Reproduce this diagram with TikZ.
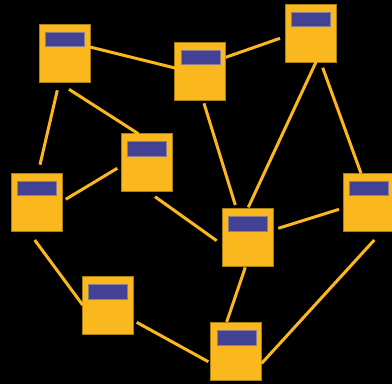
\documentclass[tikz,border=0pt]{standalone}
\definecolor{boxyellow}{HTML}{FBB71E}
\definecolor{boxedge}{HTML}{A8800F}
\definecolor{barblue}{HTML}{424193}
\definecolor{baredge}{HTML}{8A7F8A}
\begin{document}
\begin{tikzpicture}[x=1pt,y=-1pt,
    station/.style={shape=rectangle,draw=boxedge,line width=0.7pt,fill=boxyellow,
        minimum width=51pt,minimum height=58pt,inner sep=0pt,
        path picture={\filldraw[fill=barblue,draw=baredge,line width=0.5pt]
            ([shift={(6,8)}]path picture bounding box.north west) rectangle ++(39,14.5);}},
    link/.style={draw=boxyellow,line width=3pt}]
        \path[use as bounding box,fill=black] (0,0) rectangle (392,384);

        \node[station] (a) at (64.5,53) {};
        \node[station] (b) at (200.3,71) {};
        \node[station] (c) at (311,33) {};
        \node[station] (d) at (146.5,162.7) {};
        \node[station] (e) at (36.5,202) {};
        \node[station] (f) at (247.7,237.3) {};
        \node[station] (g) at (369,202) {};
        \node[station] (h) at (108,305.3) {};
        \node[station] (i) at (236.3,351.7) {};

        \path [link] ([shift={(25.5,-6)}]a.center) edge ([shift={(-25.3,-3)}]b.center);
        \path [link] ([shift={(25.4,-13.7)}]b.center) edge ([shift={(-31,5.3)}]c.center);
        \path [link] ([shift={(-7.2,37.3)}]a.center) edge ([shift={(3.5,-37.3)}]e.center);
        \path [link] ([shift={(4.5,36.3)}]a.center) edge ([shift={(-8.2,-29)}]d.center);
        \path [link] ([shift={(29.2,-2.7)}]e.center) edge ([shift={(-29.2,5.6)}]d.center);
        \path [link] ([shift={(8.5,34)}]d.center) edge ([shift={(-31,3.4)}]f.center);
        \path [link] ([shift={(3.7,32.3)}]b.center) edge ([shift={(-12.4,-32.3)}]f.center);
        \path [link] ([shift={(5,29)}]c.center) edge ([shift={(0.6,-30)}]f.center);
        \path [link] ([shift={(11.7,34.7)}]c.center) edge ([shift={(-8,-28.7)}]g.center);
        \path [link] ([shift={(30.6,-9)}]f.center) edge ([shift={(-30,7.3)}]g.center);
        \path [link] ([shift={(-2.4,30)}]f.center) edge ([shift={(-9.6,-29.7)}]i.center);
        \path [link] ([shift={(-1.8,38)}]e.center) edge ([shift={(-25.3,-0.3)}]h.center);
        \path [link] ([shift={(28.7,17)}]h.center) edge ([shift={(-28,10)}]i.center);
        \path [link] ([shift={(5.3,38)}]g.center) edge ([shift={(25.4,11.6)}]i.center);
    \end{tikzpicture}
\end{document}
